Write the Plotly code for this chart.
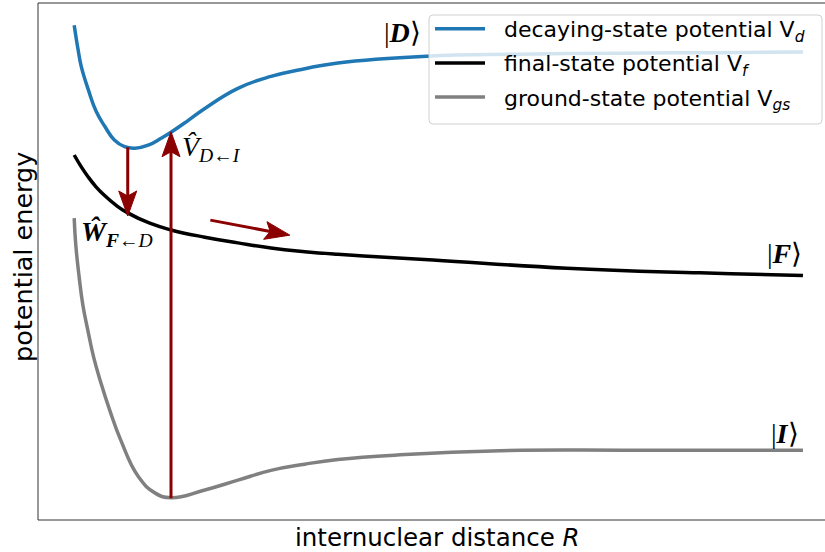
import math
import plotly.graph_objects as go

# ---- potential curves (R in arbitrary units, energy in arbitrary units) ----
R_vd = [0.46, 0.51, 0.55, 0.64, 0.74, 0.85, 0.97, 1.10, 1.23, 1.40, 1.57, 1.69,
        1.91, 2.12, 2.54, 2.96, 3.39, 3.81, 4.94, 6.12, 7.40, 8.67, 9.72]
E_vd = [9.57, 9.09, 8.77, 8.32, 7.90, 7.61, 7.35, 7.22, 7.19, 7.25, 7.39, 7.50,
        7.73, 7.96, 8.35, 8.58, 8.73, 8.84, 8.97, 9.01, 9.03, 9.04, 9.05]

R_vf = [0.46, 0.55, 0.64, 0.74, 0.85, 0.99, 1.14, 1.42, 1.69, 2.12, 2.54, 2.96,
        3.39, 3.81, 5.02, 6.72, 8.41, 9.72]
E_vf = [7.06, 6.83, 6.63, 6.44, 6.27, 6.09, 5.94, 5.74, 5.61, 5.47, 5.36, 5.26,
        5.19, 5.14, 5.03, 4.87, 4.78, 4.73]

R_vgs = [0.46, 0.48, 0.52, 0.57, 0.64, 0.71, 0.80, 0.91, 1.05, 1.27, 1.49, 1.69,
         2.12, 2.54, 2.96, 3.39, 3.81, 4.60, 5.87, 7.56, 9.72]
E_vgs = [5.84, 5.32, 4.74, 4.16, 3.62, 3.13, 2.65, 2.13, 1.55, 0.85, 0.52, 0.43,
         0.58, 0.77, 0.96, 1.08, 1.17, 1.26, 1.34, 1.35, 1.35]

# ---- transition arrows: (R_start, E_start) -> (R_end, E_end) ----
arrow_R0 = [1.14, 1.69, 2.19]
arrow_E0 = [7.21, 0.42, 5.80]
arrow_R1 = [1.14, 1.69, 3.20]
arrow_E1 = [5.88, 7.51, 5.51]

series_names = [
    "\u00a0\u00a0decaying-state potential V<sub><i>d</i></sub>",
    "\u00a0\u00a0final-state potential V<sub><i>f</i></sub>",
    "\u00a0\u00a0ground-state potential V<sub><i>gs</i></sub>",
]
series_colors = ["#1f77b4", "#000000", "#808080"]
ARROW_COLOR = "#8b0000"

# ---- figure geometry ----
W, H = 825, 552
ML, MR, MT, MB = 38, 0, 3, 32
X_RANGE = [0, 10]
Y_RANGE = [0, 10]
PW, PH = W - ML - MR, H - MT - MB
sx = PW / (X_RANGE[1] - X_RANGE[0])   # px per unit R
sy = PH / (Y_RANGE[1] - Y_RANGE[0])   # px per unit E


def paper_x(px):
    return (px - ML) / PW


def paper_y(py):
    return (H - MB - py) / PH


fig = go.Figure()

for i, (R, E, name, col) in enumerate(zip([R_vd, R_vf, R_vgs], [E_vd, E_vf, E_vgs],
                                          series_names, series_colors)):
    fig.add_trace(go.Scatter(
        x=R, y=E, mode="lines", name=name, legendgroup=f"g{i}",
        line=dict(color=col, width=3.5, shape="spline", smoothing=1.3),
        hoverinfo="skip",
    ))

# arrows: shaft + notched filled head, built in pixel space
HEAD_L, HEAD_W, NOTCH = 25.0, 9.0, 5.0
for x0, y0, x1, y1 in zip(arrow_R0, arrow_E0, arrow_R1, arrow_E1):
    dxp, dyp = (x1 - x0) * sx, (y1 - y0) * sy
    n = math.hypot(dxp, dyp)
    ux, uy = dxp / n, dyp / n
    px, py = -uy, ux

    def to_data(ox, oy):
        return x1 + ox / sx, y1 + oy / sy

    bl = to_data(-HEAD_L * ux + HEAD_W * px, -HEAD_L * uy + HEAD_W * py)
    br = to_data(-HEAD_L * ux - HEAD_W * px, -HEAD_L * uy - HEAD_W * py)
    nt = to_data(-(HEAD_L - NOTCH) * ux, -(HEAD_L - NOTCH) * uy)

    fig.add_trace(go.Scatter(
        x=[x0, nt[0]], y=[y0, nt[1]], mode="lines",
        line=dict(color=ARROW_COLOR, width=3), showlegend=False, hoverinfo="skip",
    ))
    fig.add_trace(go.Scatter(
        x=[x1, bl[0], nt[0], br[0], x1], y=[y1, bl[1], nt[1], br[1], y1],
        mode="lines", fill="toself", fillcolor=ARROW_COLOR,
        line=dict(color=ARROW_COLOR, width=1), showlegend=False, hoverinfo="skip",
    ))

MATH_FONT = dict(family="Liberation Serif", size=28, color="black")
ket_D = "|<b><i>D</i></b>\u27e9"
ket_F = "|<b><i>F</i></b>\u27e9"
ket_I = "|<b><i>I</i></b>\u27e9"
op_V = "<i>V\u0302</i><sub><i>D</i>\u2190<i>I</i></sub>"
op_W = "<b><i>\u0174</i></b><sub><b><i>F</i></b>\u2190<i>D</i></sub>"

labels = [
    (4.63, 9.43, ket_D, "center"),
    (9.48, 5.16, ket_F, "center"),
    (9.49, 1.68, ket_I, "center"),
    (1.80, 7.18, op_V, "left"),
    (0.52, 5.55, op_W, "left"),
]
for x, y, t, xa in labels:
    fig.add_annotation(x=x, y=y, xref="x", yref="y", text=t, showarrow=False,
                       xanchor=xa, yanchor="middle", font=MATH_FONT)

# axis titles
fig.add_annotation(x=paper_x(437), y=paper_y(537), xref="paper", yref="paper",
                   text="internuclear distance <i>R</i>", showarrow=False,
                   xanchor="center", yanchor="middle",
                   font=dict(family="DejaVu Sans", size=24.5, color="black"))
fig.add_annotation(x=paper_x(23), y=paper_y(257), xref="paper", yref="paper",
                   text="potential energy", textangle=-90, showarrow=False,
                   xanchor="center", yanchor="middle",
                   font=dict(family="DejaVu Sans", size=25.5, color="black"))

# frame (left, top, bottom)
frame = dict(color="#333333", width=1)
fig.add_shape(type="line", xref="paper", yref="paper", x0=0, x1=0, y0=0, y1=1, line=frame)
fig.add_shape(type="line", xref="paper", yref="paper", x0=0, x1=1, y0=1, y1=1, line=frame)
fig.add_shape(type="line", xref="paper", yref="paper", x0=0, x1=1, y0=0, y1=0, line=frame)

# legend frame: semi-transparent box with rounded corners
bx0, bx1, by0, by1, rad = 429, 822, 15, 124, 4
legend_box = (
    f"M {paper_x(bx0 + rad)},{paper_y(by0)} L {paper_x(bx1 - rad)},{paper_y(by0)} "
    f"Q {paper_x(bx1)},{paper_y(by0)} {paper_x(bx1)},{paper_y(by0 + rad)} "
    f"L {paper_x(bx1)},{paper_y(by1 - rad)} "
    f"Q {paper_x(bx1)},{paper_y(by1)} {paper_x(bx1 - rad)},{paper_y(by1)} "
    f"L {paper_x(bx0 + rad)},{paper_y(by1)} "
    f"Q {paper_x(bx0)},{paper_y(by1)} {paper_x(bx0)},{paper_y(by1 - rad)} "
    f"L {paper_x(bx0)},{paper_y(by0 + rad)} "
    f"Q {paper_x(bx0)},{paper_y(by0)} {paper_x(bx0 + rad)},{paper_y(by0)} Z"
)
fig.add_shape(type="path", path=legend_box, xref="paper", yref="paper",
              fillcolor="rgba(255,255,255,0.8)", line=dict(color="#d0d0d0", width=1),
              layer="above")

fig.update_layout(
    width=W, height=H,
    margin=dict(l=ML, r=MR, t=MT, b=MB),
    paper_bgcolor="white", plot_bgcolor="white",
    xaxis=dict(range=X_RANGE, visible=False),
    yaxis=dict(range=Y_RANGE, visible=False),
    legend=dict(
        x=paper_x(430), y=paper_y(8), xanchor="left", yanchor="top",
        bgcolor="rgba(0,0,0,0)", borderwidth=0,
        font=dict(family="DejaVu Sans", size=22, color="black"),
        itemwidth=50, tracegroupgap=2.5,
    ),
    showlegend=True,
)

fig.write_html("out.html")
